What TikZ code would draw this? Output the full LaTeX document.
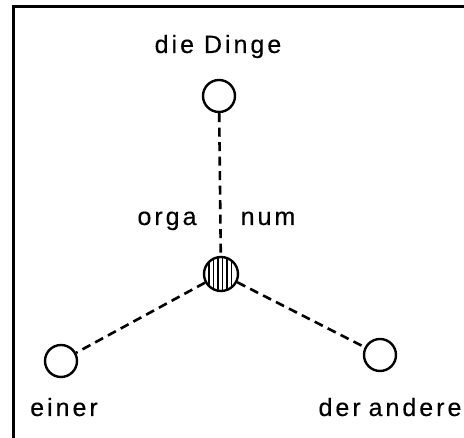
\documentclass[tikz,border=0pt]{standalone}
\usepackage{fontspec}
\setmainfont{Liberation Sans}[LetterSpace=12,FakeBold=0.3]
\begin{document}
\begin{tikzpicture}[x=1pt,y=1pt,
  lbl/.style={font=\fontsize{25}{30}\selectfont, anchor=base, inner sep=0pt},
  dot/.style={circle, draw, line width=2.4pt, minimum size=32pt, inner sep=0pt},
  link/.style={line width=2.6pt, dash pattern=on 9pt off 5.5pt}]
\useasboundingbox (0,0) rectangle (464,438);
\fill[white] (0,0) rectangle (464,438);
\draw[line width=3pt] (13,0) |- (464,431);
\node[dot] (top) at (219,342) {};
\node[dot, minimum size=34pt] (mid) at (221,164) {};
\node[dot] (left) at (61,77) {};
\node[dot] (right) at (380,83) {};
\begin{scope}
  \clip (mid.center) circle (16pt);
  \foreach \dx in {-12,-7.5,-3,1.5,6,10.5} {
    \draw[line width=1.6pt] ([xshift=\dx pt]mid.center) ++(0,-20) -- ++(0,40);
  }
\end{scope}
\draw[link] (top) -- (mid);
\draw[link] (mid) -- (left);
\draw[link] (mid) -- (right);
\node[lbl] (ldinge) at (218,385) {die Dinge};
\node[lbl] (lorga) at (167,213) {orga};
\node[lbl] (lnum) at (268,213) {num};
\node[lbl] (leiner) at (64,22) {einer};
\node[lbl] (lander) at (390,22) {der\hspace{-2pt} andere};
\end{tikzpicture}
\end{document}
